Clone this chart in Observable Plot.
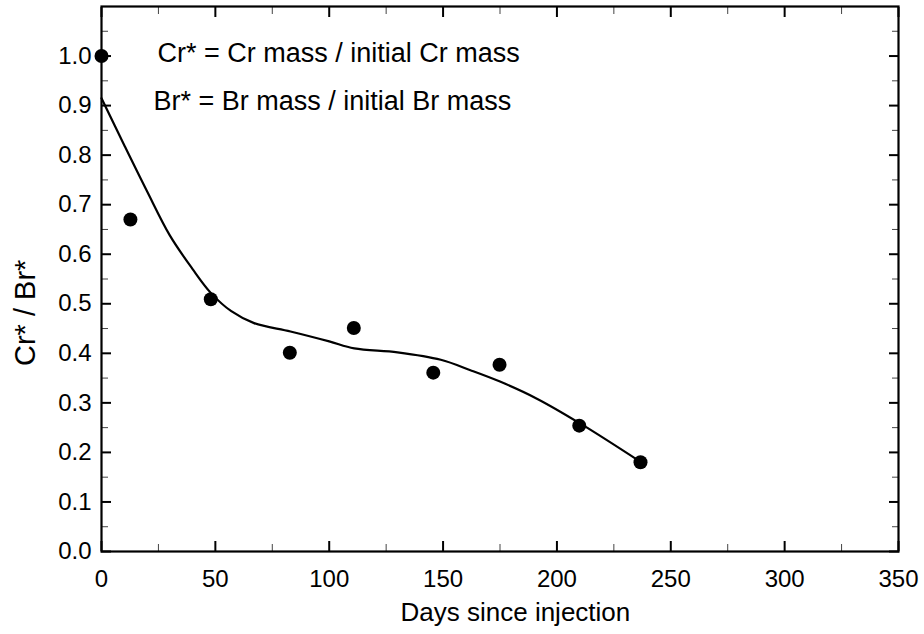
<!DOCTYPE html>
<html>
<head>
<meta charset="utf-8">
<script src="https://cdn.jsdelivr.net/npm/d3@7"></script>
<script src="https://cdn.jsdelivr.net/npm/@observablehq/plot@0.6"></script>
<style>
  html, body { margin: 0; padding: 0; background: #fff; }
  svg { display: block; }
</style>
</head>
<body>
<div id="chart"></div>
<script>
// Observed points
const days = [0, 12.7, 48, 82.7, 110.8, 145.7, 174.8, 209.8, 236.7];
const ratio = [1.0, 0.670, 0.509, 0.401, 0.451, 0.361, 0.377, 0.254, 0.180];

// Fitted curve
const curveDays = [0, 10, 20, 30, 40, 48, 57, 67, 83, 100, 111, 130, 149, 162, 175, 191, 210, 237];
const curveRatio = [0.915, 0.820, 0.727, 0.638, 0.570, 0.522, 0.485, 0.461, 0.444, 0.424, 0.410, 0.402, 0.387, 0.366, 0.343, 0.309, 0.259, 0.180];

// Ticks
const xMajor = [0, 50, 100, 150, 200, 250, 300, 350];
const xMinor = [25, 75, 125, 175, 225, 275, 325];
const yMajor = [0, 0.1, 0.2, 0.3, 0.4, 0.5, 0.6, 0.7, 0.8, 0.9, 1.0];
const yMinor = [0.05, 0.15, 0.25, 0.35, 0.45, 0.55, 0.65, 0.75, 0.85, 0.95, 1.05];

const xLabel = "Days since injection";
const yLabel = "Cr* / Br*";
const notes = ["Cr* = Cr mass / initial Cr mass", "Br* = Br mass / initial Br mass"];

const points = days.map((d, i) => ({x: d, y: ratio[i]}));
const curve = curveDays.map((d, i) => ({x: d, y: curveRatio[i]}));

const font = "'Liberation Sans', Arial, Helvetica, sans-serif";

const chart = Plot.plot({
  width: 924,
  height: 634,
  marginLeft: 101,
  marginRight: 26,
  marginTop: 6,
  marginBottom: 83,
  style: {fontFamily: font, fontSize: "24px", background: "#fff", color: "#000", overflow: "visible"},
  x: {domain: [0, 350]},
  y: {domain: [0, 1.1]},
  marks: [
    // major / minor ticks pointing inward on all four sides
    Plot.axisX({ticks: xMajor, tickSize: -10, fill: "none", label: null, strokeWidth: 2}),
    Plot.axisX({ticks: xMinor, tickSize: -7, fill: "none", label: null, stroke: "#444"}),
    Plot.axisX({anchor: "top", ticks: xMajor, tickSize: -10, fill: "none", label: null, strokeWidth: 2}),
    Plot.axisX({anchor: "top", ticks: xMinor, tickSize: -7, fill: "none", label: null, stroke: "#444"}),
    Plot.axisY({ticks: yMajor, tickSize: -10, fill: "none", label: null, strokeWidth: 2}),
    Plot.axisY({ticks: yMinor, tickSize: -7, fill: "none", label: null, stroke: "#444"}),
    Plot.axisY({anchor: "right", ticks: yMajor, tickSize: -10, fill: "none", label: null, strokeWidth: 2}),
    Plot.axisY({anchor: "right", ticks: yMinor, tickSize: -7, fill: "none", label: null, stroke: "#444"}),
    // tick labels
    Plot.axisX({ticks: xMajor, tickSize: 0, tickPadding: 18, label: null, tickFormat: d3.format("d"), fontSize: 24}),
    Plot.axisY({ticks: yMajor, tickSize: 0, tickPadding: 10, label: null, tickFormat: d3.format(".1f"), fontSize: 24}),
    Plot.frame({stroke: "#000", strokeWidth: 2.2}),
    Plot.line(curve, {x: "x", y: "y", curve: "catmull-rom", stroke: "#000", strokeWidth: 2.2}),
    Plot.dot(points, {x: "x", y: "y", r: 7, fill: "#000", stroke: "none"}),
    Plot.text([notes[0]], {frameAnchor: "top-left", textAnchor: "start", dx: 56, dy: 36, fontSize: 27, fill: "#000"}),
    Plot.text([notes[1]], {frameAnchor: "top-left", textAnchor: "start", dx: 52, dy: 84, fontSize: 27, fill: "#000"}),
    Plot.text([xLabel], {frameAnchor: "bottom-left", textAnchor: "start", dx: 299, dy: 69, fontSize: 26, fill: "#000"}),
    Plot.text([yLabel], {frameAnchor: "left", rotate: -90, dx: -76, dy: 87, fontSize: 29, fill: "#000"})
  ]
});

document.getElementById("chart").appendChild(chart);
</script>
</body>
</html>
